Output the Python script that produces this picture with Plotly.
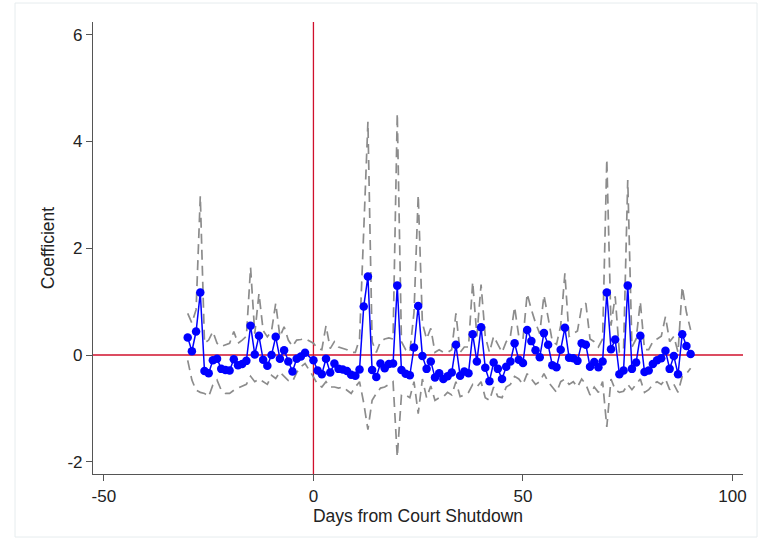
import plotly.graph_objects as go

# Days (day -1 is the omitted reference day)
days = list(range(-30, -1)) + list(range(0, 91))

coef = [
    # -30 .. -2
    0.33, 0.07, 0.44, 1.17, -0.30, -0.34, -0.10, -0.07, -0.26, -0.28,
    -0.29, -0.08, -0.19, -0.17, -0.11, 0.55, 0.01, 0.36, -0.09, -0.20,
    0.00, 0.34, -0.07, 0.09, -0.12, -0.31, -0.07, -0.03, 0.04,
    # 0 .. 90
    -0.10, -0.29, -0.36, -0.07, -0.33, -0.16, -0.26, -0.27, -0.30, -0.37,
    -0.39, -0.27, 0.91, 1.47, -0.28, -0.41, -0.16, -0.25, -0.17, -0.16,
    1.30, -0.28, -0.35, -0.38, 0.14, 0.92, -0.02, -0.26, -0.12, -0.42,
    -0.34, -0.45, -0.40, -0.33, 0.19, -0.39, -0.31, -0.34, 0.39, -0.12,
    0.52, -0.24, -0.49, -0.14, -0.26, -0.45, -0.22, -0.12, 0.22, -0.09,
    -0.15, 0.47, 0.26, 0.09, -0.04, 0.41, 0.19, -0.19, -0.23, 0.10,
    0.51, -0.05, -0.06, -0.11, 0.22, 0.19, -0.22, -0.13, -0.23, -0.12,
    1.17, 0.11, 0.29, -0.36, -0.29, 1.30, -0.26, -0.14, 0.36, -0.32,
    -0.29, -0.17, -0.10, -0.06, 0.08, -0.26, -0.02, -0.36, 0.39, 0.17,
    0.02,
]

upper = [
    # -30 .. -2
    0.78, 0.60, 0.85, 2.98, 0.22, 0.28, 0.44, 0.22, 0.16, 0.19,
    0.22, 0.44, 0.22, 0.28, 0.35, 1.64, 0.40, 1.15, 0.46, 0.34,
    0.45, 0.97, 0.34, 0.53, 0.28, 0.16, 0.28, 0.29, 0.31,
    # 0 .. 90
    0.22, 0.12, 0.10, 0.55, 0.12, 0.25, 0.15, 0.12, 0.10, 0.05,
    0.05, 0.30, 2.40, 4.37, 0.25, 0.05, 0.25, 0.30, 0.32, 0.30,
    4.53, 0.25, 0.10, 0.05, 0.80, 3.00, 0.60, 0.30, 0.50, 0.05,
    0.10, 0.05, 0.05, 0.10, 0.78, 0.05, 0.15, 0.15, 1.37, 0.35,
    1.32, 0.35, 0.05, 0.35, 0.20, 0.05, 0.25, 0.35, 0.90, 0.35,
    0.30, 1.15, 0.85, 0.60, 0.40, 1.12, 0.70, 0.25, 0.20, 0.55,
    1.53, 0.35, 0.40, 0.45, 0.90, 0.97, 0.30, 0.25, 0.15, 0.30,
    3.67, 0.55, 1.10, 0.05, 0.10, 3.28, 0.15, 0.30, 1.00, 0.10,
    0.10, 0.25, 0.30, 0.35, 0.72, 0.25, 0.35, 0.05, 1.28, 0.80,
    0.47,
]

lower = [
    # -30 .. -2
    -0.10, -0.47, -0.66, -0.70, -0.72, -0.78, -0.56, -0.47, -0.66, -0.72,
    -0.72, -0.66, -0.62, -0.58, -0.55, -0.40, -0.50, -0.45, -0.50, -0.55,
    -0.38, -0.44, -0.32, -0.40, -0.48, -0.50, -0.33, -0.22, -0.16,
    # 0 .. 90
    -0.41, -0.55, -0.60, -0.50, -0.60, -0.60, -0.62, -0.60, -0.66, -0.72,
    -0.60, -0.50, -0.90, -1.40, -0.85, -0.72, -0.62, -0.60, -0.55, -0.50,
    -1.91, -0.75, -0.75, -0.80, -0.50, -1.10, -0.45, -0.80, -0.58, -0.85,
    -0.80, -0.78, -0.70, -0.75, -0.50, -0.78, -0.75, -0.70, -0.55, -0.60,
    -0.50, -0.80, -0.85, -0.60, -0.78, -0.80, -0.60, -0.55, -0.40, -0.45,
    -0.55, -0.35, -0.45, -0.55, -0.50, -0.35, -0.50, -0.60, -0.70, -0.50,
    -0.45, -0.55, -0.50, -0.60, -0.45, -0.55, -0.75, -0.60, -0.70, -0.50,
    -1.35, -0.45, -0.65, -0.70, -0.68, -0.55, -0.65, -0.55, -0.45, -0.70,
    -0.65, -0.55, -0.50, -0.55, -0.45, -0.65, -0.55, -0.70, -0.40, -0.35,
    -0.25,
]

x_ticks = [-50, 0, 50, 100]
x_tick_labels = ["-50", "0", "50", "100"]
y_ticks = [-2, 0, 2, 4, 6]
y_tick_labels = ["-2", "0", "2", "4", "6"]

RED = "#D0102C"
GRAY = "#8C8C8C"
BLUE = "#0000FF"
FONT = "Liberation Sans, Arial, sans-serif"

fig = go.Figure()
fig.add_trace(go.Scatter(x=days, y=upper, mode="lines",
                         line=dict(color=GRAY, width=1.7, dash="10px,6px"),
                         showlegend=False, hoverinfo="skip"))
fig.add_trace(go.Scatter(x=days, y=lower, mode="lines",
                         line=dict(color=GRAY, width=1.7, dash="10px,6px"),
                         showlegend=False, hoverinfo="skip"))
fig.add_trace(go.Scatter(x=days, y=coef, mode="lines+markers",
                         line=dict(color=BLUE, width=1.5),
                         marker=dict(color=BLUE, size=8.5, symbol="circle"),
                         showlegend=False))

# reference lines
fig.add_shape(type="line", xref="paper", yref="y", x0=0, x1=1, y0=0, y1=0,
              line=dict(color=RED, width=1.3), layer="below")
fig.add_shape(type="line", xref="x", yref="paper", x0=0, x1=0, y0=0, y1=1,
              line=dict(color=RED, width=1.3), layer="below")
# faint outer frame
fig.add_shape(type="rect", xref="paper", yref="paper",
              x0=(15 - 93) / 650, x1=(757 - 93) / 650,
              y0=-(537 - 474) / 452, y1=1 + (22 - 3) / 452,
              line=dict(color="#E6ECEE", width=1), layer="below")

fig.update_layout(
    width=765, height=547,
    margin=dict(l=93, r=22, t=22, b=73),
    paper_bgcolor="white", plot_bgcolor="white",
    font=dict(family=FONT, size=17, color="#222222"),
    xaxis=dict(range=[-52.6, 102.5], tickvals=x_ticks, ticktext=x_tick_labels,
               showgrid=False, zeroline=False, showline=True,
               linecolor="#555555", linewidth=1.2,
               ticks="outside", ticklen=6, tickcolor="#555555",
               tickfont=dict(size=17),
               title=dict(text="Days from Court Shutdown", font=dict(size=17.5), standoff=3)),
    yaxis=dict(range=[-2.23, 6.24], tickvals=y_ticks, ticktext=y_tick_labels,
               showgrid=False, zeroline=False, showline=True,
               linecolor="#555555", linewidth=1.2,
               ticks="outside", ticklen=6, tickcolor="#555555",
               tickfont=dict(size=17),
               title=dict(text="Coefficient", font=dict(size=17.5), standoff=8)),
)

fig.write_html("out.html")
